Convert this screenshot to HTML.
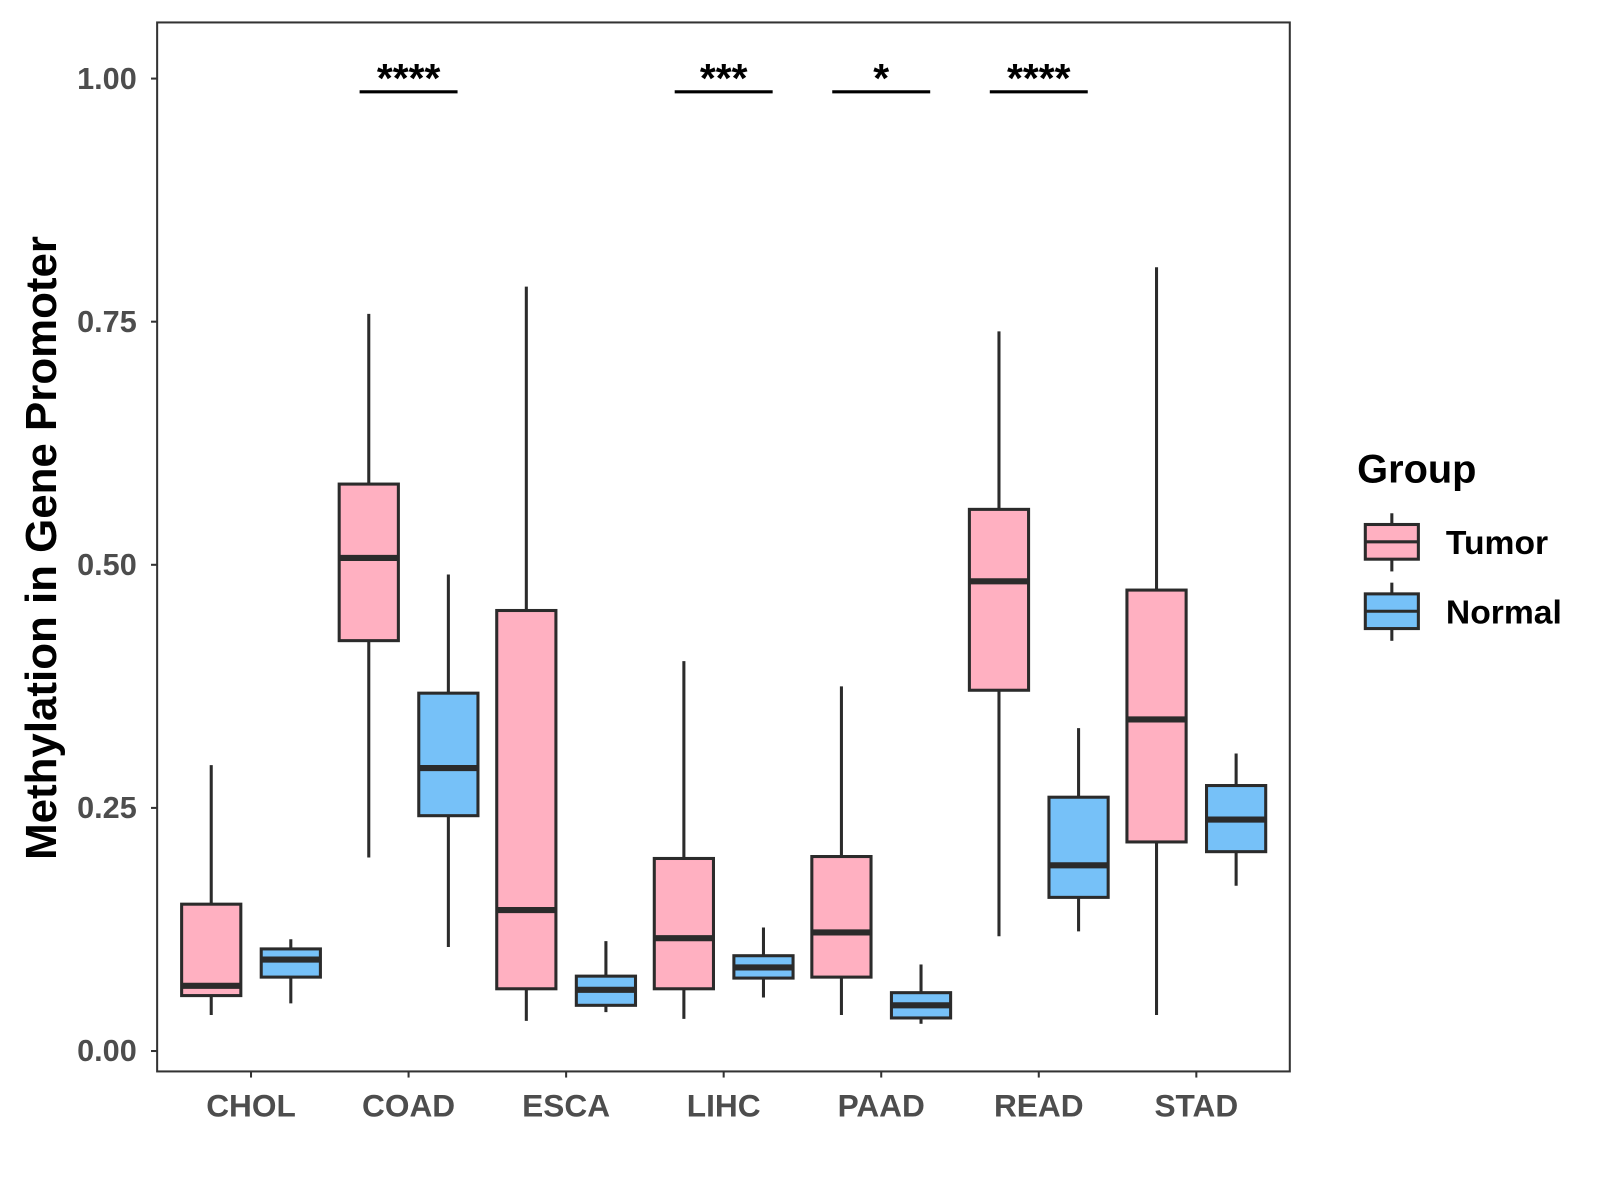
<!DOCTYPE html>
<html><head><meta charset="utf-8"><style>
html,body{margin:0;padding:0;background:#fff;}
svg{display:block;font-family:"Liberation Sans",Arial,sans-serif;}
</style></head><body>
<svg id="chart" width="1600" height="1200" viewBox="0 0 1568 1176" xmlns="http://www.w3.org/2000/svg">
<rect x="154" y="22" width="1110" height="1028" fill="#fff" stroke="#333" stroke-width="2"/>
<g id="axes"></g>
<g id="boxes"></g>
<g id="sig"></g>
<text transform="translate(55,537) rotate(-90)" text-anchor="middle" font-size="43" font-weight="bold" fill="#000">Methylation in Gene Promoter</text>
<g>
<text x="1330" y="473" font-size="39" font-weight="bold">Group</text>
<g>
<line x1="1364" y1="503" x2="1364" y2="560" stroke="#2b2b2b" stroke-width="3"/>
<rect x="1338" y="514" width="52" height="34" fill="#ffb0c1" stroke="#2b2b2b" stroke-width="3"/>
<line x1="1338" y1="531" x2="1390" y2="531" stroke="#2b2b2b" stroke-width="3"/>
<text x="1417" y="543" font-size="33" font-weight="bold">Tumor</text>
</g>
<g>
<line x1="1364" y1="571" x2="1364" y2="628" stroke="#2b2b2b" stroke-width="3"/>
<rect x="1338" y="582" width="52" height="34" fill="#76c1f8" stroke="#2b2b2b" stroke-width="3"/>
<line x1="1338" y1="599" x2="1390" y2="599" stroke="#2b2b2b" stroke-width="3"/>
<text x="1417" y="611" font-size="33" font-weight="bold">Normal</text>
</g>
</g>
</svg>
<script>
const categories = ["CHOL","COAD","ESCA","LIHC","PAAD","READ","STAD"];
// [low, q1, median, q3, high]
const tumorStats = [
 [0.037,0.057,0.067,0.151,0.294],
 [0.199,0.422,0.507,0.583,0.758],
 [0.031,0.064,0.145,0.453,0.786],
 [0.033,0.064,0.116,0.198,0.401],
 [0.037,0.076,0.122,0.200,0.375],
 [0.118,0.371,0.483,0.557,0.740],
 [0.037,0.215,0.341,0.474,0.806]
];
const normalStats = [
 [0.049,0.076,0.094,0.105,0.115],
 [0.107,0.242,0.291,0.368,0.490],
 [0.040,0.047,0.063,0.077,0.113],
 [0.055,0.075,0.086,0.098,0.127],
 [0.028,0.034,0.047,0.060,0.089],
 [0.123,0.158,0.191,0.261,0.332],
 [0.170,0.205,0.238,0.273,0.306]
];
const yTicks = [0, 0.25, 0.5, 0.75, 1.0];
const yTickLabels = ["0.00","0.25","0.50","0.75","1.00"];
const sigCategories = ["COAD","LIHC","PAAD","READ"];
const sigLabels = ["****","***","*","****"];

const NS="http://www.w3.org/2000/svg";
const y = v => 1030 - v*953;
const x = i => 246 + i*154.4;
function mk(tag, attrs, parent){const e=document.createElementNS(NS,tag);for(const k in attrs)e.setAttribute(k,attrs[k]);parent.appendChild(e);return e;}
const axes=document.getElementById('axes'), boxes=document.getElementById('boxes'), sig=document.getElementById('sig');

yTicks.forEach((t,i)=>{
  const l=mk('line',{x1:148,x2:154,y1:y(t),y2:y(t),stroke:'#333','stroke-width':2},axes);
  
  
  const tx=mk('text',{x:134,y:y(t)+10,'text-anchor':'end','font-size':30,'font-weight':'bold',fill:'#4d4d4d'},axes);
  tx.textContent=yTickLabels[i];
  
  
});
categories.forEach((c,i)=>{
  const l=mk('line',{x1:x(i),x2:x(i),y1:1050,y2:1056,stroke:'#333','stroke-width':2},axes);
  
  
  const tx=mk('text',{x:x(i),y:1094,'text-anchor':'middle','font-size':31,'font-weight':'bold',fill:'#4d4d4d'},axes);
  tx.textContent=c;
  
  
});
function box(cx,s,fill,name){
  const g=mk('g',{},boxes);
  
  
  const hw=29;
  mk('line',{x1:cx,x2:cx,y1:y(s[0]),y2:y(s[4]),stroke:'#2b2b2b','stroke-width':3},g);
  mk('rect',{x:cx-hw,y:y(s[3]),width:2*hw,height:y(s[1])-y(s[3]),fill:fill,stroke:'#2b2b2b','stroke-width':3},g);
  mk('line',{x1:cx-hw,x2:cx+hw,y1:y(s[2]),y2:y(s[2]),stroke:'#2b2b2b','stroke-width':6},g);
}
categories.forEach((c,i)=>{
  box(x(i)-39,tumorStats[i],'#ffb0c1','box-tumor-'+c.toLowerCase());
  box(x(i)+39,normalStats[i],'#76c1f8','box-normal-'+c.toLowerCase());
});
sigCategories.forEach((c,k)=>{
  const i=categories.indexOf(c);
  const l=mk('line',{x1:x(i)-48,x2:x(i)+48,y1:90,y2:90,stroke:'#000','stroke-width':3},sig);
  
  
  const t=mk('text',{x:x(i),y:90,'text-anchor':'middle','font-size':40,'font-weight':'bold'},sig);
  t.textContent=sigLabels[k];
  
  
});
</script>
</body></html>
